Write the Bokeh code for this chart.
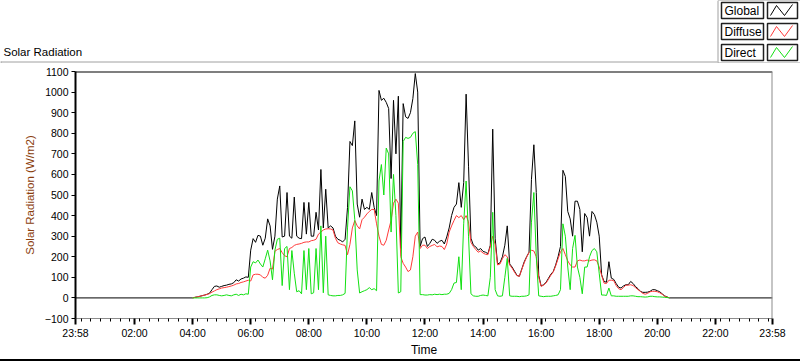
from bokeh.plotting import figure
from bokeh.models import FixedTicker, Range1d, Span, Div
from bokeh.layouts import column
from bokeh.core.properties import value
from bokeh.embed import file_html
from bokeh.resources import INLINE

# ---------------- data (W/m2), 5-minute samples starting 04:00 ----------------
series_start_min = 240          # 04:00
step_min = 5
global_wm2 = [
    0, 3, 5, 8, 11, 14, 18, 23, 40, 56, 58, 52,                 # 04
    56, 60, 62, 66, 68, 74, 88, 82, 92, 96, 102, 100,           # 05
    232, 288, 270, 304, 300, 256, 290, 384, 350, 236, 300, 480,  # 06
    544, 296, 300, 512, 300, 290, 490, 300, 290, 288, 464, 310,  # 07
    464, 300, 300, 416, 330, 624, 340, 528, 340, 350, 340, 300,  # 08
    285, 280, 272, 285, 440, 760, 740, 860, 456, 392, 480, 430,  # 09
    440, 430, 512, 440, 400, 1008, 960, 970, 950, 920, 580, 960,  # 10
    700, 980, 240, 944, 880, 872, 900, 968, 1090, 1000, 250, 288,  # 11
    296, 250, 265, 285, 280, 265, 275, 280, 262, 296, 340, 400,  # 12
    440, 456, 560, 440, 560, 990, 640, 290, 256, 248, 232, 240,  # 13
    226, 222, 215, 256, 820, 290, 165, 170, 200, 256, 350, 165,  # 14
    150, 130, 110, 105, 140, 175, 200, 222, 576, 744, 512, 110,  # 15
    58, 64, 75, 95, 115, 128, 160, 200, 250, 620, 590, 420,      # 16
    384, 300, 470, 470, 430, 224, 410, 390, 300, 420, 405, 368,  # 17
    300, 112, 80, 76, 176, 96, 90, 70, 52, 48, 58, 64,           # 18
    64, 80, 70, 55, 45, 32, 27, 27, 28, 32, 40, 40,              # 19
    35, 30, 20, 10, 5, 0,                                        # 20
]
diffuse_wm2 = [
    0, 3, 5, 8, 11, 14, 17, 21, 28, 34, 40, 44,
    48, 50, 52, 55, 58, 62, 68, 70, 75, 78, 82, 86,
    82, 112, 115, 115, 112, 100, 96, 110, 144, 140, 227, 235,
    240, 220, 205, 200, 240, 245, 255, 260, 262, 265, 270, 272,
    272, 278, 280, 285, 310, 320, 330, 335, 336, 335, 330, 290,
    268, 262, 258, 255, 210, 260, 340, 376, 350, 335, 380, 392,
    408, 420, 430, 430, 360, 300, 260, 256, 280, 330, 376, 460,
    480, 460, 200, 168, 150, 128, 136, 200, 300, 320, 240, 256,
    256, 240, 250, 255, 260, 248, 252, 250, 235, 262, 320, 350,
    376, 400, 390, 400, 380, 400, 370, 270, 250, 235, 222, 228,
    218, 212, 210, 250, 300, 260, 160, 165, 190, 210, 200, 160,
    145, 125, 108, 105, 138, 170, 198, 220, 232, 228, 200, 100,
    56, 62, 72, 90, 110, 126, 155, 190, 224, 240, 210, 180,
    160, 150, 150, 180, 184, 180, 180, 184, 180, 184, 185, 180,
    150, 110, 72, 70, 86, 86, 84, 60, 45, 40, 50, 62,
    62, 64, 60, 50, 40, 32, 22, 18, 22, 30, 32, 32,
    30, 25, 18, 8, 4, 0,
]
direct_wm2 = [
    0, 0, 0, 0, 0, 0, 1, 5, 12, 15, 15, 12,
    10, 12, 15, 12, 10, 15, 18, 12, 18, 15, 20, 18,
    150, 176, 170, 184, 165, 150, 190, 232, 180, 88, 232, 285,
    290, 60, 240, 250, 40, 230, 120, 30, 35, 20, 230, 40,
    240, 20, 25, 240, 40, 350, 25, 300, 15, 12, 10, 10,
    12, 12, 15, 22, 340, 540, 520, 380, 136, 24, 30, 35,
    40, 50, 40, 45, 35, 568, 648, 500, 728, 700, 320, 600,
    400, 24, 30, 760, 780, 775, 780, 800, 808, 648, 16, 16,
    14, 14, 16, 15, 18, 16, 18, 16, 18, 18, 22, 40,
    72, 75, 200, 40, 360, 568, 300, 20, 10, 8, 8, 12,
    14, 12, 10, 100, 416, 40, 10, 8, 10, 100, 192, 10,
    8, 8, 8, 6, 8, 8, 10, 15, 368, 512, 200, 10,
    8, 6, 8, 8, 8, 10, 12, 15, 40, 360, 300, 150,
    40, 240, 304, 150, 100, 20, 150, 150, 200, 230, 240, 224,
    120, 14, 14, 12, 48, 10, 10, 8, 8, 8, 8, 8,
    8, 10, 10, 8, 6, 6, 5, 4, 5, 8, 8, 6,
    5, 5, 4, 3, 2, 0,
]
# the Global trace is recorded over the whole day (zero at night)
night_start_min = -2            # 23:58 of the previous day
night_end_min = 1438            # 23:58
night_wm2 = 0

x_tick_minutes = [-2, 120, 240, 360, 480, 600, 720, 840, 960, 1080, 1200, 1320, 1438]
x_tick_labels = ["23:58", "02:00", "04:00", "06:00", "08:00", "10:00", "12:00",
                 "14:00", "16:00", "18:00", "20:00", "22:00", "23:58"]
y_ticks = [-100, 0, 100, 200, 300, 400, 500, 600, 700, 800, 900, 1000, 1100]

chart_title = "Solar Radiation"
series_names = ["Global", "Diffuse", "Direct"]
series_colors = ["#000000", "#ff3a3a", "#12e012"]

FONT = "Liberation Sans"
W = 800


def no_frame_align(fig):
    if "frame_align" in fig.properties():
        fig.frame_align = False


# ---------------- header strip: chart label + legend (pixel space) ----------------
HEAD_H = 63
head = figure(width=W, height=HEAD_H, output_backend="svg", toolbar_location=None,
              x_range=Range1d(0, W), y_range=Range1d(HEAD_H, 0),
              x_axis_type=None, y_axis_type=None,
              min_border_left=0, min_border_right=0, min_border_top=0, min_border_bottom=0,
              outline_line_color=None, background_fill_color="white",
              border_fill_color="white", margin=(0, 0, 0, 0))
no_frame_align(head)
head.text(x=[3], y=[51], text=[chart_title], text_font=value(FONT),
          text_font_size=value("11.5px"), text_baseline="middle", text_align="left",
          text_color="#000000")
# outer frame of the chart (top and left edges)
head.segment(x0=[0, 0.5], y0=[61.5, 61], x1=[717, 0.5], y1=[61.5, HEAD_H],
             line_color="#a0a0a0", line_width=1)
# legend panel
head.quad(left=[717.5], right=[800], top=[0], bottom=[62.5], fill_color="white",
          line_color="#a0a0a0", line_width=1)
row_tops = [2, 23, 44]
row_h = 16
lab_l, lab_r, sw_l, sw_r = 721, 763, 767, 797
head.quad(left=[lab_l] * 3, right=[lab_r] * 3, top=row_tops, bottom=[t + row_h for t in row_tops],
          fill_color="white", line_color="#202020", line_width=1.5)
head.quad(left=[sw_l] * 3, right=[sw_r] * 3, top=row_tops, bottom=[t + row_h for t in row_tops],
          fill_color="white", line_color="#202020", line_width=1.5)
head.text(x=[lab_l + 3] * 3, y=[t + 8.5 for t in row_tops], text=series_names,
          text_font=value(FONT), text_font_size=value("12px"), text_baseline="middle",
          text_align="left", text_color="#000000")
zig_dx = [3, 9, 17, 25]
zig_dy = [13, 3, 13, 2]
head.multi_line(xs=[[sw_l + d for d in zig_dx] for _ in row_tops],
                ys=[[t + d for d in zig_dy] for t in row_tops],
                line_color=series_colors, line_width=1)

# ---------------- main chart ----------------
EDGE_H = 2
MAIN_H = 361 - HEAD_H - EDGE_H
ML, MR, MT, MB = 75, 28, 8, 38

times = [series_start_min + step_min * i for i in range(len(global_wm2))]
g_x = [night_start_min] + times + [night_end_min]
g_y = [night_wm2] + global_wm2 + [night_wm2]

p = figure(width=W, height=MAIN_H, output_backend="svg", toolbar_location=None,
           x_range=Range1d(night_start_min, night_end_min), y_range=Range1d(-100, 1100),
           min_border_left=ML, min_border_right=MR, min_border_top=MT, min_border_bottom=MB,
           background_fill_color="white", border_fill_color="white", margin=(0, 0, 0, 0))
no_frame_align(p)
p.grid.visible = False
p.outline_line_color = None

p.line(g_x, g_y, color=series_colors[0], line_width=1, legend_label=series_names[0])
p.line(times, diffuse_wm2, color=series_colors[1], line_width=1, legend_label=series_names[1])
p.line(times, direct_wm2, color=series_colors[2], line_width=1, legend_label=series_names[2])
p.legend.visible = False

# frame edges: top black, right gray
p.add_layout(Span(location=1100, dimension="width", line_color="#000000", line_width=2))
p.add_layout(Span(location=night_end_min, dimension="height", line_color="#8c8c8c", line_width=2))

# y axis
ya = p.yaxis[0]
ya.ticker = FixedTicker(ticks=y_ticks, minor_ticks=[])
ya.major_tick_out = 4
ya.major_tick_in = 0
ya.minor_tick_out = 0
ya.axis_line_color = "#000000"
ya.axis_line_width = 2
ya.major_label_text_font = FONT
ya.major_label_text_font_size = "10.5px"
ya.major_label_text_color = "#000000"
ya.major_label_standoff = 3
ya.axis_label = "Solar Radiation (W/m2)"
ya.axis_label_text_font = FONT
ya.axis_label_text_font_size = "11.5px"
ya.axis_label_text_font_style = "normal"
ya.axis_label_text_color = "#8a3d0c"
ya.axis_label_standoff = 6

# x axis
xa = p.xaxis[0]
xa.ticker = FixedTicker(ticks=x_tick_minutes, minor_ticks=list(range(10, 1438, 20)))
xa.major_label_overrides = {t: lab for t, lab in zip(x_tick_minutes, x_tick_labels)}
xa.major_tick_out = 6
xa.major_tick_in = 0
xa.major_tick_line_width = 2
xa.minor_tick_out = 3
xa.minor_tick_in = 0
xa.axis_line_color = "#8c8c8c"
xa.axis_line_width = 1
xa.major_label_text_font = FONT
xa.major_label_text_font_size = "10.5px"
xa.major_label_text_color = "#000000"
xa.major_label_standoff = 2
xa.axis_label = "Time"
xa.axis_label_text_font = FONT
xa.axis_label_text_font_size = "12px"
xa.axis_label_text_font_style = "normal"
xa.axis_label_text_color = "#000000"
xa.axis_label_standoff = 1

# bottom edge of the outer chart frame (full width)
bottom_edge = Div(text="", width=W, height=EDGE_H, margin=(0, 0, 0, 0),
                  styles={"background-color": "#000000"})

layout = column(head, p, bottom_edge, spacing=0)
open("out.html", "w").write(file_html(layout, INLINE))
